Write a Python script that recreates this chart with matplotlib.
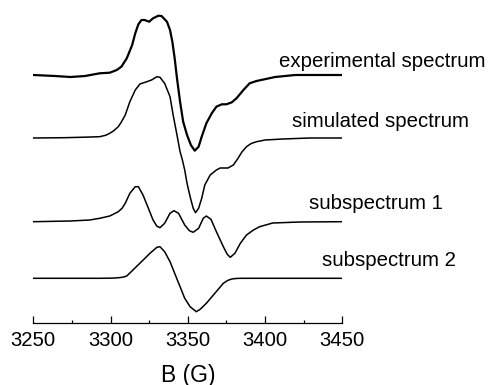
import numpy as np
import matplotlib.pyplot as plt
from matplotlib.ticker import MultipleLocator

plt.rcParams['font.family'] = ['Liberation Sans', 'DejaVu Sans']

# field (G) and intensity (arb. units, relative to each baseline)
exp_B = [3250, 3264, 3274, 3283.5, 3293, 3299.5, 3304, 3307, 3310.5, 3314, 3316, 3318,
         3320, 3322, 3325, 3327.5, 3331, 3333, 3336.5, 3338.5, 3340, 3341.5, 3343, 3345,
         3347, 3349.5, 3352, 3354.5, 3357, 3359, 3362, 3365.5, 3368.5, 3372, 3375,
         3378.5, 3381.5, 3386, 3390, 3394.5, 3406.5, 3419.5, 3450]
exp_I = [0, -1, -2, -1, 1.7, 2.3, 5, 8.3, 16.7, 30, 41.7, 50.7,
         55, 55, 53.3, 56.7, 59.3, 59, 53.3, 45, 33.3, 16.7, -3.3, -26.7,
         -46.7, -60, -70, -75.7, -71.7, -61.7, -48.3, -38.3, -31.7, -29.3, -29.3,
         -27.3, -23.3, -15, -8.3, -6, -2, 0, 0]

sim_B = [3250, 3270, 3283, 3293, 3297, 3299.5, 3302, 3305, 3307, 3309.5, 3312.5, 3316, 3319,
         3323.5, 3326.5, 3330, 3332, 3335, 3338.5, 3340.5, 3343, 3345, 3346.5, 3348,
         3349.5, 3351.5, 3353.5, 3355, 3357, 3359, 3361, 3364.5, 3368.5, 3371, 3376,
         3379.5, 3382.5, 3385, 3388, 3391, 3394.5, 3400, 3411.5, 3429, 3450]
sim_I = [0, 0.3, 0.8, 1.3, 2.8, 4.7, 7.2, 11.3, 16, 23, 36.3, 48, 54,
         56.3, 58, 61.3, 60.7, 54.7, 41.3, 23, 3, -13.7, -22, -32,
         -45.3, -58.7, -70.3, -74.7, -70.3, -60.3, -47, -37, -32, -30, -30,
         -27, -20.3, -14, -8.7, -5.5, -3.7, -2, -1, 0, 0]

sub1_B = [3250, 3274, 3286.5, 3293, 3299.5, 3305, 3307.5, 3309.5, 3312.5, 3316, 3318,
          3321, 3324.5, 3327.5, 3330, 3332, 3335, 3338.5, 3341, 3344, 3348, 3351, 3353.5,
          3357, 3360, 3362, 3365, 3368.5, 3373, 3375.5, 3377.5, 3380.5, 3384, 3388,
          3392.5, 3396.5, 3405, 3422.5, 3450]
sub1_I = [0, 0.7, 1.7, 3.4, 5.7, 10, 13.5, 18.4, 28.4, 35, 35,
          26.7, 13.4, 1.7, -4.5, -6, -1.6, 8.4, 11, 8.4, -3.3, -9, -10.6,
          -6.6, 3.4, 5.7, 2.4, -10, -25, -32.5, -35.6, -31.6, -21.6, -13.3,
          -8.3, -5, -1.3, -0.3, 0]

sub2_B = [3250, 3293, 3302, 3306, 3308.5, 3310.5, 3314.5, 3320, 3325.5, 3330, 3332,
          3335, 3338.5, 3341.5, 3345, 3348, 3351.5, 3355.5, 3358, 3362, 3367.5, 3373,
          3376, 3378.5, 3381, 3384, 3450]
sub2_I = [0, 0, 0.2, 0.7, 1.3, 2.3, 8.3, 16.6, 25, 31, 31.6,
          26.6, 16.6, 5, -8.4, -20, -28.4, -33.4, -31, -25, -15, -5,
          -2, -0.7, -0.2, 0, 0]

labels = ['experimental spectrum', 'simulated spectrum', 'subspectrum 1', 'subspectrum 2']

fig = plt.figure(figsize=(4.92, 3.85), dpi=100)
ax = fig.add_axes([33.3 / 492, 62 / 385, 309 / 492, 318 / 385])

offsets = [248, 185, 101.3, 44.7]
widths = [1.6, 1.1, 1.1, 1.1]
curves = [(exp_B, exp_I), (sim_B, sim_I), (sub1_B, sub1_I), (sub2_B, sub2_I)]
for (b, i), off, lw in zip(curves, offsets, widths):
    ax.plot(b, np.array(i) + off, color='black', lw=lw, solid_joinstyle='round')

# label positions
lab_x = [3476, 3475, 3472, 3480]
lab_y = [261, 201, 119, 63]
for t, x, y in zip(labels, lab_x, lab_y):
    ax.text(x, y, t, ha='center', va='center', fontsize=14.7, clip_on=False)

ax.set_xlim(3250, 3450)
ax.set_ylim(0, 318)
ax.xaxis.set_major_locator(MultipleLocator(50))
ax.xaxis.set_minor_locator(MultipleLocator(25))
ax.tick_params(axis='x', which='major', direction='in', length=5, width=0.9, labelsize=14.6, pad=6)
ax.tick_params(axis='x', which='minor', direction='in', length=2.5, width=0.9)
ax.set_yticks([])
for s in ['left', 'right', 'top']:
    ax.spines[s].set_visible(False)
ax.spines['bottom'].set_linewidth(0.9)
ax.set_xlabel('B (G)', fontsize=16.5, labelpad=9.5)

plt.savefig('out.png', dpi=100)
